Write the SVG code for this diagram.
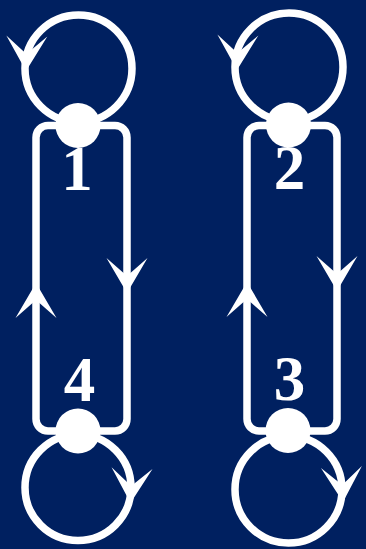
<svg xmlns="http://www.w3.org/2000/svg" width="366" height="549" viewBox="0 0 366 549">
  <defs>
    <style>
      .edge { fill: none; stroke: #ffffff; stroke-width: 7.5; }
      .arrow { fill: none; stroke: none; marker-end: url(#ah); }
      .node { fill: #ffffff; }
      .label { fill: #ffffff; font-family: "Liberation Serif", "Times New Roman", serif; font-weight: bold; font-size: 63px; text-anchor: middle; }
    </style>
    <marker id="ah" markerUnits="userSpaceOnUse" viewBox="-36 -22 37 44" markerWidth="37" markerHeight="44" refX="0" refY="0" orient="auto" overflow="visible">
      <path d="M0,0 L-35,-20.5 L-17,0 L-35,20.5 Z" fill="#ffffff"/>
    </marker>
  </defs>
  <rect x="0" y="0" width="366" height="549" fill="#002060"/>

  <g id="connectors">
    <!-- self loops -->
    <circle class="edge" cx="78.5" cy="68.5" r="53.5"/>
    <circle class="edge" cx="289" cy="67" r="54"/>
    <circle class="edge" cx="78" cy="487.5" r="53"/>
    <circle class="edge" cx="288.5" cy="489.5" r="53.5"/>
    <!-- left pair -->
    <path class="edge" d="M78,125.5 H115 A12,12 0 0 1 127,137.5 V419 A12,12 0 0 1 115,431 H78"/>
    <path class="edge" d="M78,431 H48 A12,12 0 0 1 36,419 V137.5 A12,12 0 0 1 48,125.5 H78"/>
    <!-- right pair -->
    <path class="edge" d="M288.5,125.5 H325 A12,12 0 0 1 337,137.5 V419 A12,12 0 0 1 325,431 H288.5"/>
    <path class="edge" d="M288.5,431 H259 A12,12 0 0 1 247,419 V137.5 A12,12 0 0 1 259,125.5 H288.5"/>
    <!-- arrowheads -->
    <path class="arrow" d="M36,300 L36,283"/>
    <path class="arrow" d="M127,270 L127,293"/>
    <path class="arrow" d="M247,300 L247,282"/>
    <path class="arrow" d="M337,270 L337,291"/>
    <path class="arrow" d="M26.5,50 L26,71"/>
    <path class="arrow" d="M237.5,50 L237,70"/>
    <path class="arrow" d="M131.5,480 L130.5,503"/>
    <path class="arrow" d="M342,480 L343,502"/>
  </g>

  <g id="node1">
    <circle class="node" cx="78" cy="125.5" r="22.5"/>
    <text class="label" x="77" y="190">1</text>
  </g>
  <g id="node2">
    <circle class="node" cx="288.5" cy="125" r="22.5"/>
    <text class="label" x="289.5" y="188.5">2</text>
  </g>
  <g id="node3">
    <circle class="node" cx="288" cy="430.5" r="22.5"/>
    <text class="label" x="289.5" y="400">3</text>
  </g>
  <g id="node4">
    <circle class="node" cx="78" cy="431" r="22.5"/>
    <text class="label" x="79.5" y="401">4</text>
  </g>
</svg>
